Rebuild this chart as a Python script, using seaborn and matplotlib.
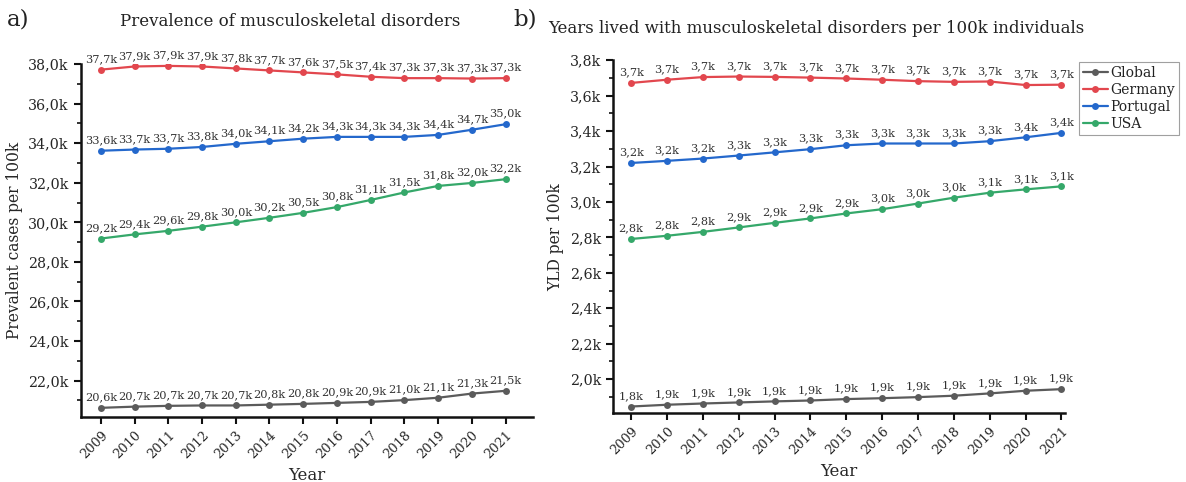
import matplotlib
matplotlib.use("Agg")
import matplotlib.pyplot as plt
import matplotlib.ticker as mticker
import numpy as np
import pandas as pd
import seaborn as sns

years = list(range(2009, 2022))
countries = ["Global", "Germany", "Portugal", "USA"]

prev_global = [20620, 20680, 20720, 20740, 20740, 20780, 20820, 20870, 20920, 21010, 21130, 21340, 21480]
prev_germany = [37720, 37880, 37910, 37880, 37780, 37680, 37580, 37480, 37360, 37290, 37290, 37270, 37290]
prev_portugal = [33620, 33680, 33720, 33810, 33970, 34100, 34230, 34320, 34320, 34320, 34420, 34680, 34960]
prev_usa = [29180, 29390, 29570, 29780, 30000, 30230, 30480, 30770, 31130, 31510, 31840, 31990, 32180]

yld_global = [1845, 1855, 1862, 1868, 1874, 1879, 1887, 1892, 1898, 1906, 1919, 1934, 1943]
yld_germany = [3672, 3690, 3705, 3708, 3706, 3702, 3697, 3690, 3682, 3678, 3680, 3660, 3662]
yld_portugal = [3220, 3232, 3245, 3262, 3280, 3298, 3320, 3330, 3330, 3330, 3343, 3365, 3390]
yld_usa = [2791, 2809, 2831, 2856, 2882, 2907, 2935, 2959, 2991, 3024, 3052, 3071, 3088]

title_a = "Prevalence of musculoskeletal disorders"
title_b = "Years lived with musculoskeletal disorders per 100k individuals"
ylabel_a = "Prevalent cases per 100k"
ylabel_b = "YLD per 100k"
xlabel = "Year"

palette = {"Global": "#5b5b5b", "Germany": "#e2474e", "Portugal": "#2468cc", "USA": "#35a86a"}

def long_df(series):
    rows = []
    for c, vals in zip(countries, series):
        for y, v in zip(years, vals):
            rows.append({"Year": y, "Country": c, "Value": v})
    return pd.DataFrame(rows)

df_a = long_df([prev_global, prev_germany, prev_portugal, prev_usa])
df_b = long_df([yld_global, yld_germany, yld_portugal, yld_usa])

sns.set_theme(style="white")
plt.rcParams["font.family"] = ["DejaVu Serif"]
plt.rcParams["text.color"] = "#222222"

fig = plt.figure(figsize=(11.86, 4.82), dpi=100)
ax_a = fig.add_axes([0.068, 0.135, 0.381, 0.732])
ax_b = fig.add_axes([0.517, 0.143, 0.381, 0.732])

def fmt_k(v, pos=None):
    return f"{v/1000:.1f}k".replace(".", ",")

def draw(ax, df, ylim, major, minor, legend):
    sns.lineplot(data=df, x="Year", y="Value", hue="Country", hue_order=countries,
                 palette=palette, marker="o", markersize=5, markeredgewidth=0,
                 linewidth=1.6, ax=ax, legend=legend)
    for _, r in df.iterrows():
        ax.annotate(fmt_k(r["Value"]), (r["Year"], r["Value"]), xytext=(0, 4),
                    textcoords="offset points", ha="center", va="bottom",
                    fontsize=8.2, color="#333333")
    ax.set_ylim(*ylim)
    ax.yaxis.set_major_locator(mticker.MultipleLocator(major))
    ax.yaxis.set_minor_locator(mticker.MultipleLocator(minor))
    ax.yaxis.set_major_formatter(mticker.FuncFormatter(fmt_k))
    ax.set_xticks(years)
    ax.set_xticklabels([str(y) for y in years], rotation=45, ha="right",
                       rotation_mode="anchor", fontsize=9.3)
    ax.tick_params(axis="y", labelsize=10.3)
    ax.tick_params(axis="both", which="major", direction="out", length=5, width=1.5,
                   color="#111111", left=True, bottom=True)
    ax.tick_params(axis="y", which="minor", direction="out", length=3, width=1.2,
                   color="#111111", left=True)
    for s in ["top", "right"]:
        ax.spines[s].set_visible(False)
    for s in ["left", "bottom"]:
        ax.spines[s].set_color("#111111")
        ax.spines[s].set_linewidth(1.8)
    ax.set_xlabel(xlabel, fontsize=12)

draw(ax_a, df_a, (20160, 38000), 2000, 1000, False)
ax_a.set_xlim(2008.4, 2021.8)
ax_a.set_ylabel(ylabel_a, fontsize=11.2)

draw(ax_b, df_b, (1808, 3800), 200, 100, True)
ax_b.set_xlim(2008.5, 2021.1)
ax_b.set_ylabel(ylabel_b, fontsize=11.2)

leg = ax_b.legend(loc="upper left", bbox_to_anchor=(1.03, 0.995), fontsize=10,
                  frameon=True, fancybox=False, handlelength=1.8, handletextpad=0.2,
                  borderpad=0.3, labelspacing=0.2, borderaxespad=0.0, title=None)
leg.get_frame().set_edgecolor("#888888")
leg.get_frame().set_linewidth(0.8)

fig.text(0.245, 0.955, title_a, ha="center", va="center", fontsize=12)
fig.text(0.688, 0.94, title_b, ha="center", va="center", fontsize=12)
fig.text(0.006, 0.96, "a)", ha="left", va="center", fontsize=16.5)
fig.text(0.433, 0.96, "b)", ha="left", va="center", fontsize=16.5)

fig.savefig("out.png", dpi=100)
